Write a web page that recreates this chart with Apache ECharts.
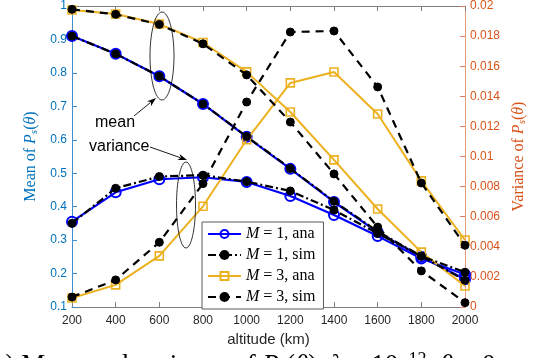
<!DOCTYPE html>
<html>
<head>
<meta charset="utf-8">
<script src="https://cdn.jsdelivr.net/npm/echarts@6/dist/echarts.min.js"></script>
<style>
  html, body { margin: 0; padding: 0; background: #fff; }
  #chart { width: 558px; height: 358px; }
</style>
</head>
<body>
<div id="chart"></div>
<script>
// altitude (km)
const altitude = [200, 400, 600, 800, 1000, 1200, 1400, 1600, 1800, 2000];

// mean of Ps(theta) -- left axis
const meanM1Ana = [0.91, 0.857, 0.79, 0.707, 0.609, 0.513, 0.414, 0.324, 0.25, 0.183];
const meanM1Sim = [0.91, 0.857, 0.79, 0.707, 0.61, 0.514, 0.416, 0.326, 0.252, 0.18];
const meanM3Ana = [0.988, 0.976, 0.946, 0.891, 0.803, 0.683, 0.54, 0.393, 0.264, 0.163];
const meanM3Sim = [0.99, 0.975, 0.945, 0.887, 0.794, 0.653, 0.498, 0.339, 0.208, 0.113];

// variance of Ps(theta) -- right axis
const varM1Ana = [0.00567, 0.00762, 0.00849, 0.00862, 0.00831, 0.00738, 0.00611, 0.00471, 0.00322, 0.00216];
const varM1Sim = [0.00556, 0.00789, 0.00867, 0.00876, 0.00833, 0.00771, 0.00644, 0.00489, 0.00338, 0.00231];
const varM3Ana = [0.0006, 0.00147, 0.0034, 0.00669, 0.01111, 0.01489, 0.01561, 0.01282, 0.00838, 0.00445];
const varM3Sim = [0.00066, 0.0018, 0.0043, 0.0082, 0.01362, 0.01827, 0.01834, 0.01462, 0.00824, 0.0041];

const legendNames = ['M = 1, ana', 'M = 1, sim', 'M = 3, ana', 'M = 3, sim'];

const leftColor = '#0072BD';
const rightColor = '#D95319';
const blue = '#0000ff';
const orange = '#EDB120';

const chart = echarts.init(document.getElementById('chart'));

function pairs(ys) {
  return altitude.map((a, i) => [a, ys[i]]);
}

// styles per legend entry
const styles = {
  'M = 1, ana': {
    symbol: 'circle', symbolSize: 10,
    lineStyle: {color: blue, width: 2.2, type: 'solid'},
    itemStyle: {color: 'rgba(0,0,0,0)', borderColor: blue, borderWidth: 2}
  },
  'M = 1, sim': {
    symbol: 'circle', symbolSize: 8,
    lineStyle: {color: '#000', width: 2.2, type: [8, 3, 2, 3]},
    itemStyle: {color: '#000', borderColor: '#000', borderWidth: 1}
  },
  'M = 3, ana': {
    symbol: 'rect', symbolSize: 8,
    lineStyle: {color: orange, width: 2, type: 'solid'},
    itemStyle: {color: 'rgba(0,0,0,0)', borderColor: orange, borderWidth: 1.6}
  },
  'M = 3, sim': {
    symbol: 'circle', symbolSize: 8,
    lineStyle: {color: '#000', width: 2.2, type: [8, 6]},
    itemStyle: {color: '#000', borderColor: '#000', borderWidth: 1}
  }
};

function makeSeries(name, ys, yAxisIndex, z) {
  const s = styles[name];
  return {
    name: name,
    type: 'line',
    yAxisIndex: yAxisIndex,
    data: pairs(ys),
    symbol: s.symbol,
    symbolSize: s.symbolSize,
    showAllSymbol: true,
    lineStyle: s.lineStyle,
    itemStyle: s.itemStyle,
    animation: false,
    z: z
  };
}

// arrow annotation (line + filled head)
function arrow(x1, y1, x2, y2) {
  const dx = x2 - x1, dy = y2 - y1;
  const len = Math.sqrt(dx * dx + dy * dy);
  const ux = dx / len, uy = dy / len;
  const bx = x2 - 9 * ux, by = y2 - 9 * uy;
  const nx = -uy, ny = ux;
  return [
    {type: 'line', shape: {x1: x1, y1: y1, x2: bx + 2 * ux, y2: by + 2 * uy},
      style: {stroke: '#000', lineWidth: 0.9}, z: 100},
    {type: 'polygon', shape: {points: [[x2, y2], [bx + 3.2 * nx, by + 3.2 * ny], [x2 - 6.5 * ux, y2 - 6.5 * uy], [bx - 3.2 * nx, by - 3.2 * ny]]},
      style: {fill: '#000'}, z: 100}
  ];
}

const serif = 'Liberation Serif';
const richName = function (color) {
  return {
    n: {fontFamily: serif, fontSize: 16, color: color},
    i: {fontFamily: serif, fontSize: 16, fontStyle: 'italic', color: color},
    sub: {fontFamily: serif, fontSize: 11, fontStyle: 'italic', color: color, padding: [7, 0, 0, 0]}
  };
};

const option = {
  backgroundColor: '#fff',
  animation: false,
  grid: {left: 72, right: 93, top: 6, bottom: 51},
  legend: {
    data: legendNames,
    orient: 'vertical',
    left: 202,
    top: 222,
    padding: [4, 8, 4, 5],
    itemGap: 5,
    itemWidth: 33,
    itemHeight: 10,
    backgroundColor: '#fff',
    borderColor: '#5a5a5a',
    borderWidth: 1,
    formatter: function (name) {
      return '{i|M}{n|' + name.slice(1) + '}';
    },
    textStyle: {
      fontFamily: serif,
      fontSize: 16,
      color: '#000',
      rich: {
        i: {fontFamily: serif, fontSize: 16, fontStyle: 'italic', color: '#000'},
        n: {fontFamily: serif, fontSize: 16, color: '#000'}
      }
    },
    z: 50
  },
  xAxis: [
    {
      type: 'value',
      min: 200, max: 2000, interval: 200,
      name: 'altitude (km)',
      nameLocation: 'middle',
      nameGap: 19,
      nameTextStyle: {fontFamily: 'Liberation Sans', fontSize: 15, color: '#262626'},
      axisLine: {lineStyle: {color: '#808080', width: 1}},
      axisTick: {inside: true, length: 5, lineStyle: {color: '#808080'}},
      axisLabel: {fontFamily: 'Liberation Sans', fontSize: 12, color: '#262626', margin: 8,
        formatter: v => String(v)},
      splitLine: {show: false}
    },
    {
      type: 'value',
      position: 'top',
      min: 200, max: 2000, interval: 200,
      axisLine: {lineStyle: {color: '#808080', width: 1}},
      axisTick: {inside: true, length: 5, lineStyle: {color: '#808080'}},
      axisLabel: {show: false},
      splitLine: {show: false}
    }
  ],
  yAxis: [
    {
      type: 'value',
      position: 'left',
      min: 0.1, max: 1, interval: 0.1,
      name: '{n|Mean of }{i|P}{sub|s}{n|(}{i|θ}{n|)}',
      nameLocation: 'middle',
      nameGap: 26,
      nameTextStyle: {rich: richName(leftColor)},
      axisLine: {show: true, lineStyle: {color: '#3d8fcf', width: 1}},
      axisTick: {inside: true, length: 5, lineStyle: {color: '#3d8fcf'}},
      axisLabel: {fontFamily: 'Liberation Sans', fontSize: 12, color: leftColor, margin: 5},
      splitLine: {show: false}
    },
    {
      type: 'value',
      position: 'right',
      min: 0, max: 0.02, interval: 0.002,
      name: '{n|Variance of }{i|P}{sub|s}{n|(}{i|θ}{n|)}',
      nameLocation: 'middle',
      nameGap: 42,
      nameTextStyle: {rich: richName(rightColor)},
      axisLine: {show: true, lineStyle: {color: '#e59a7a', width: 1}},
      axisTick: {inside: true, length: 5, lineStyle: {color: '#e08060'}},
      axisLabel: {fontFamily: 'Liberation Sans', fontSize: 12, color: rightColor, margin: 5},
      splitLine: {show: false}
    }
  ],
  series: [
    makeSeries('M = 1, ana', meanM1Ana, 0, 2),
    makeSeries('M = 1, ana', varM1Ana, 1, 2),
    makeSeries('M = 3, ana', meanM3Ana, 0, 3),
    makeSeries('M = 3, ana', varM3Ana, 1, 3),
    makeSeries('M = 1, sim', meanM1Sim, 0, 4),
    makeSeries('M = 1, sim', varM1Sim, 1, 4),
    makeSeries('M = 3, sim', meanM3Sim, 0, 5),
    makeSeries('M = 3, sim', varM3Sim, 1, 5)
  ],
  graphic: [
    {type: 'ellipse', shape: {cx: 162, cy: 56, rx: 12, ry: 44}, style: {fill: 'none', stroke: '#000', lineWidth: 0.8}, z: 100},
    {type: 'ellipse', shape: {cx: 186, cy: 205, rx: 9.5, ry: 43}, style: {fill: 'none', stroke: '#000', lineWidth: 0.8}, z: 100},
    ...arrow(134, 116, 156, 98),
    ...arrow(150, 147, 187, 160),
    {type: 'text', left: 95, top: 115, style: {text: 'mean', fontFamily: 'Liberation Sans', fontSize: 16, fill: '#000'}, z: 100},
    {type: 'text', left: 89, top: 139, style: {text: 'variance', fontFamily: 'Liberation Sans', fontSize: 16, fill: '#000'}, z: 100},
    {
      type: 'text', x: -17, y: 351, z: 100,
      style: {
        text: '(b) Mean and variance of {i|P}{s|s}({i|θ}), {i|λ} = 10{sup|−12}, {i|θ} = 0',
        fontFamily: serif, fontSize: 27, fill: '#000',
        rich: {
          i: {fontFamily: serif, fontSize: 27, fontStyle: 'italic', fill: '#000'},
          s: {fontFamily: serif, fontSize: 18, fontStyle: 'italic', fill: '#000', padding: [12, 0, 0, 0]},
          sup: {fontFamily: serif, fontSize: 18, fill: '#000', padding: [0, 0, 12, 0]}
        }
      }
    }
  ]
};

chart.setOption(option);
</script>
</body>
</html>
